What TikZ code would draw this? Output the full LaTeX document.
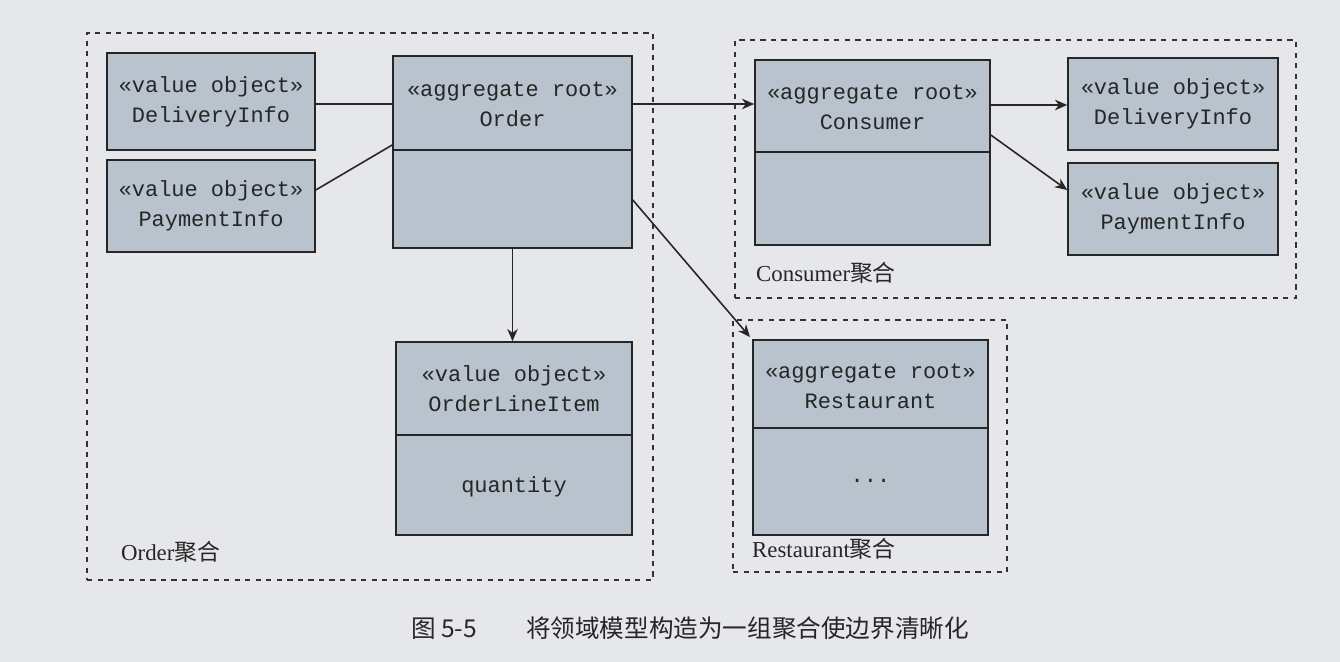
\documentclass[tikz,border=0pt]{standalone}
\usepackage{fontspec}
\setmainfont{Liberation Serif}
\setmonofont{Liberation Mono}
\newfontfamily\cjk{Noto Sans CJK SC}
\usetikzlibrary{arrows.meta}
\begin{document}
\begin{tikzpicture}[x=0.02cm,y=-0.02cm,
  box/.style={draw=black!85,line width=0.9pt,fill=boxc,inner sep=0pt},
  mono/.style={font=\ttfamily\fontsize{12.5}{17}\selectfont,align=center,text=black!85},
  agg/.style={draw=black!80,dashed,line width=0.8pt},
  lab/.style={font=\fontsize{13}{15}\selectfont,anchor=west,text=black!85},
  conn/.style={draw=black!85,line width=0.9pt},
  arr/.style={conn,-{Stealth[length=7pt,width=6pt]}}]
\definecolor{boxc}{HTML}{B9C3CD}
\definecolor{bg}{HTML}{E6E7EA}
\fill[bg] (0,0) rectangle (1340,662);
\useasboundingbox (0,0) rectangle (1340,662);
% aggregates
\node[agg,minimum width=566*0.02cm,minimum height=547*0.02cm,inner sep=0pt] (aggo) at (370,306.5) {};
\node[agg,minimum width=561*0.02cm,minimum height=258*0.02cm,inner sep=0pt] (aggc) at (1015.5,169) {};
\node[agg,minimum width=274*0.02cm,minimum height=252*0.02cm,inner sep=0pt] (aggr) at (870,446) {};
\node[lab] (lo) at (115,552) {Order{\cjk 聚合}};
\node[lab] (lc) at (750,273) {Consumer{\cjk 聚合}};
\node[lab] (lr) at (746,549) {Restaurant{\cjk 聚合}};
% boxes
\node[box,minimum width=208*0.02cm,minimum height=97*0.02cm] (dl) at (211,101.5) {};
\node[mono] at (dl) {«value object»\\DeliveryInfo};
\node[box,minimum width=208*0.02cm,minimum height=92*0.02cm] (pl) at (211,206) {};
\node[mono] at (pl) {«value object»\\PaymentInfo};
\node[box,minimum width=239*0.02cm,minimum height=192*0.02cm] (ord) at (512.5,152) {};
\draw[conn] (393,150) -- (632,150);
\node[mono] at (512.5,104) {«aggregate root»\\Order};
\node[box,minimum width=236*0.02cm,minimum height=193*0.02cm] (oli) at (514,438.5) {};
\draw[conn] (396,435) -- (632,435);
\node[mono] at (514,389) {«value object»\\OrderLineItem};
\node[mono] at (514,487) {quantity};
\node[box,minimum width=235*0.02cm,minimum height=185*0.02cm] (con) at (872.5,152.5) {};
\draw[conn] (755,152) -- (990,152);
\node[mono] at (872.5,107) {«aggregate root»\\Consumer};
\node[box,minimum width=210*0.02cm,minimum height=92*0.02cm] (dr) at (1173,104) {};
\node[mono] at (dr) {«value object»\\DeliveryInfo};
\node[box,minimum width=210*0.02cm,minimum height=92*0.02cm] (pr) at (1173,209) {};
\node[mono] at (pr) {«value object»\\PaymentInfo};
\node[box,minimum width=235*0.02cm,minimum height=195*0.02cm] (res) at (870.5,437.5) {};
\draw[conn] (753,428) -- (988,428);
\node[mono] at (870.5,386) {«aggregate root»\\Restaurant};
\node[mono] at (870.5,481) {...};
% connectors
\draw[conn] (dl.east |- 0,104) -- (ord.west |- 0,104);
\draw[conn] (pl.east |- 0,190) -- (ord.west |- 0,145);
\draw[arr] (ord.east |- 0,104) -- (con.west |- 0,104);
\draw[arr] (ord.south) -- (oli.north -| ord.south);
\draw[arr] (ord.east |- 0,200) -- (750,337);
\draw[arr] (con.east |- 0,105) -- (dr.west |- 0,105);
\draw[arr] (con.east |- 0,135) -- (pr.west |- 0,190);
% caption
\node[font=\cjk\fontsize{14}{16}\selectfont,text=black!85] (cap) at (690,628) {图 5-5\quad\quad 将领域模型构造为一组聚合使边界清晰化};
\end{tikzpicture}
\end{document}
